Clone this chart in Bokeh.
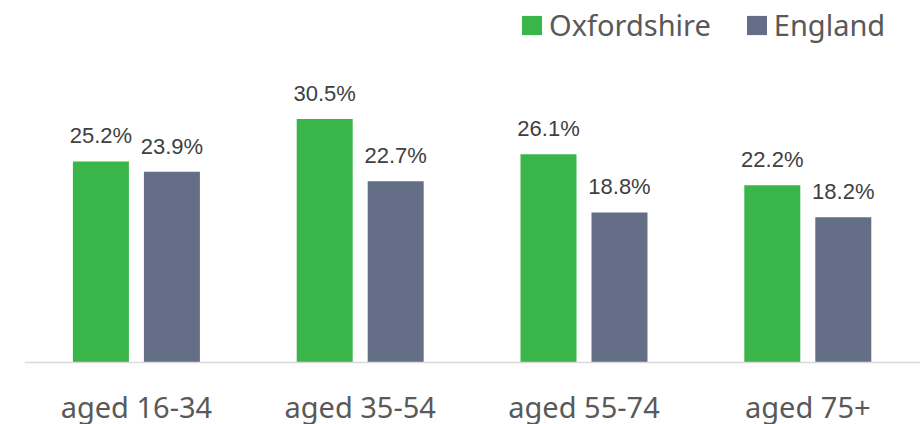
from bokeh.plotting import figure
from bokeh.models import ColumnDataSource, LabelSet, Legend, LegendItem, Range1d, Span
from bokeh.core.properties import value
from bokeh.embed import file_html
from bokeh.resources import INLINE

categories = ["aged 16-34", "aged 35-54", "aged 55-74", "aged 75+"]
oxfordshire = [25.2, 30.5, 26.1, 22.2]
england = [23.9, 22.7, 18.8, 18.2]
series_names = ["Oxfordshire", "England"]
colors = ["#3AB54A", "#646E87"]

idx = list(range(len(categories)))
off = 0.1586
bw = 0.2502
px_per_pct = 7.98
cat_px = 223.8

W, H = 920, 424
left = 24
base = 362

src_o = ColumnDataSource(dict(x=[i - off for i in idx], top=oxfordshire,
                              lab=[f"{v:.1f}%" for v in oxfordshire]))
src_e = ColumnDataSource(dict(x=[i + off for i in idx], top=england,
                              lab=[f"{v:.1f}%" for v in england]))
src_c = ColumnDataSource(dict(x=idx, y=[0] * len(idx), lab=categories))

p = figure(width=W, height=H, output_backend="svg", toolbar_location=None,
           x_range=Range1d(-0.5, -0.5 + (W - left) / cat_px),
           y_range=Range1d(-(H - base) / px_per_pct, base / px_per_pct),
           min_border_left=left, min_border_right=0, min_border_top=0, min_border_bottom=0)
p.outline_line_color = None
p.xgrid.visible = False
p.ygrid.visible = False
p.xaxis.visible = False
p.yaxis.visible = False
p.background_fill_color = "white"
p.border_fill_color = "white"

p.add_layout(Span(location=0, dimension="width", line_color="#D9D9D9", line_width=1.5))

r_o = p.vbar(x="x", top="top", width=bw, source=src_o, fill_color=colors[0], line_color=None)
r_e = p.vbar(x="x", top="top", width=bw, source=src_e, fill_color=colors[1], line_color=None)

for s in (src_o, src_e):
    p.add_layout(LabelSet(x="x", y="top", text="lab", source=s, y_offset=18,
                          text_align="center", text_baseline="alphabetic",
                          text_font=value("Liberation Sans"), text_font_size=value("22px"),
                          text_color=value("#404040")))

p.add_layout(LabelSet(x="x", y="y", text="lab", source=src_c, y_offset=-55,
                      text_align="center", text_baseline="alphabetic",
                      text_font=value("Noto Sans"), text_font_size=value("29px"),
                      text_color=value("#595959")))

legend = Legend(items=[LegendItem(label=series_names[0], renderers=[r_o]),
                       LegendItem(label=series_names[1], renderers=[r_e])],
                orientation="horizontal", location=(495, H - 44),
                glyph_width=25, glyph_height=24, label_standoff=5, spacing=33,
                padding=0, margin=0, border_line_color=None, background_fill_alpha=0,
                label_text_font="Noto Sans", label_text_font_size="29px",
                label_text_color="#595959")
p.add_layout(legend, "center")

open("out.html", "w").write(file_html(p, INLINE))
